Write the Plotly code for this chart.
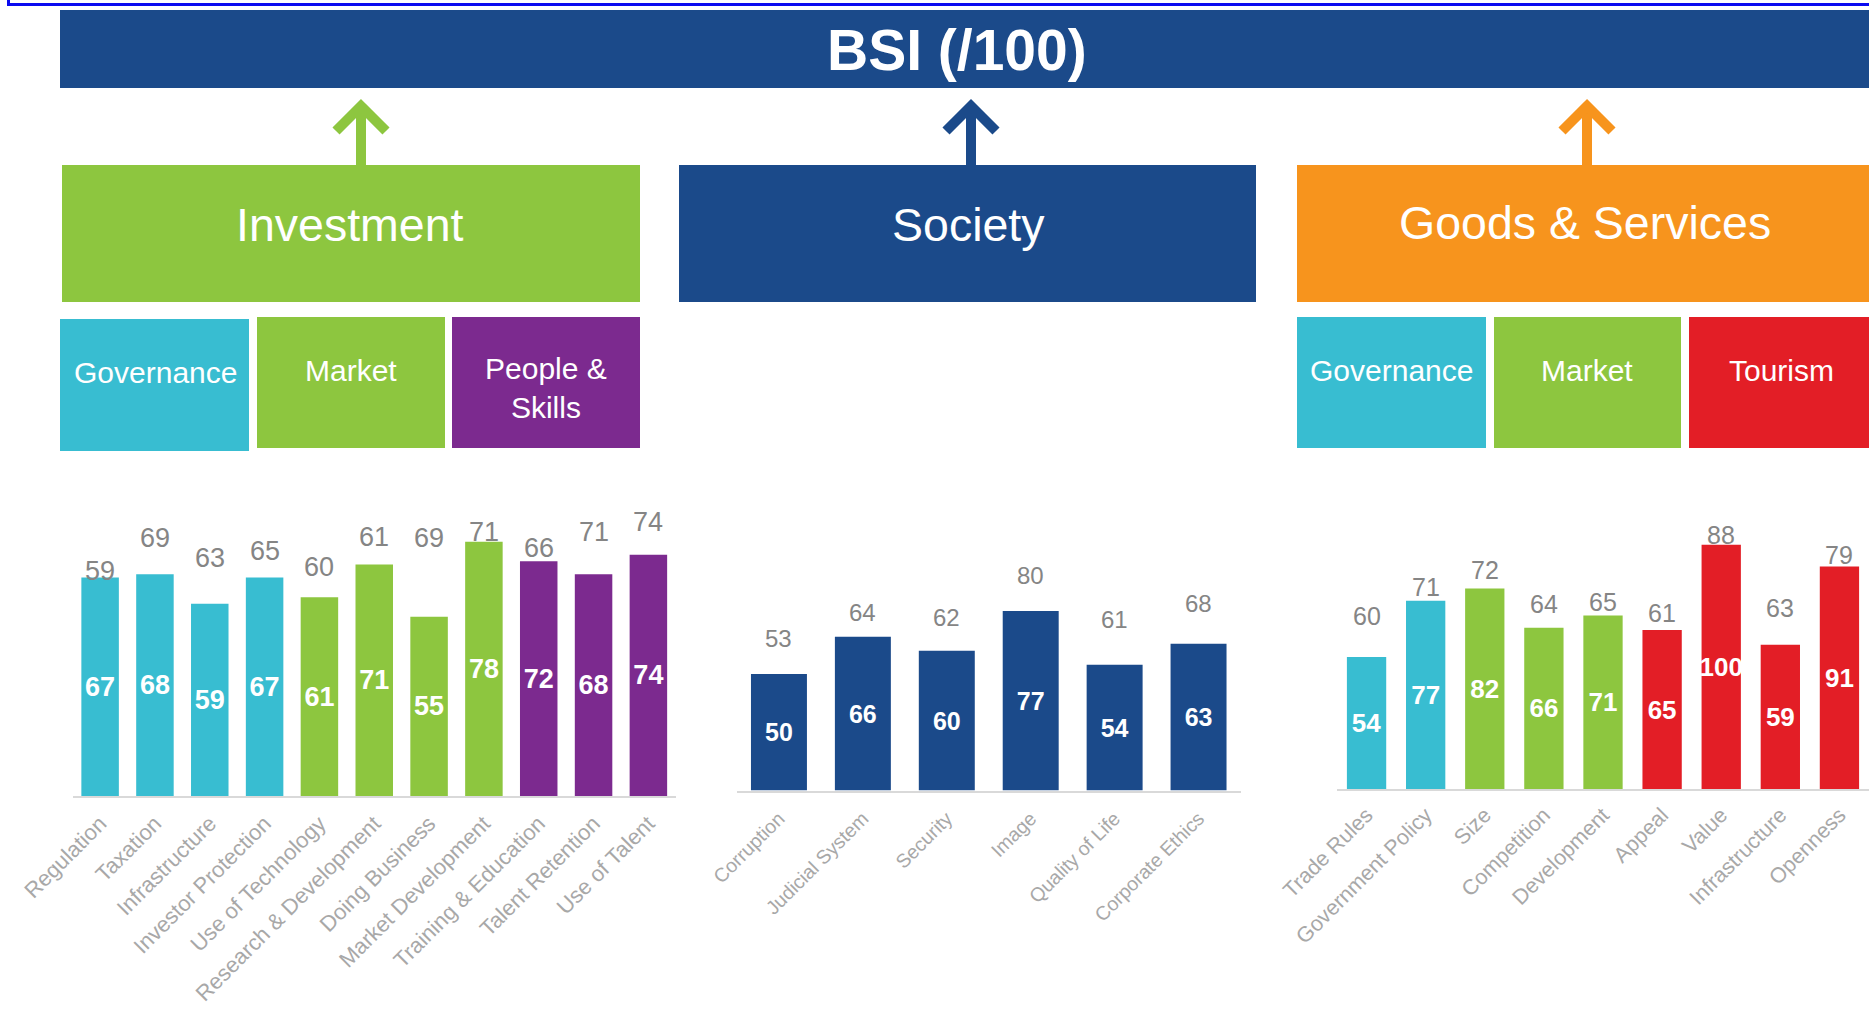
import plotly.graph_objects as go

W, H = 1869, 1014

# ---- Investment pillar -------------------------------------------------
inv_categories = ["Regulation", "Taxation", "Infrastructure", "Investor Protection",
                  "Use of Technology", "Research & Development", "Doing Business",
                  "Market Development", "Training & Education", "Talent Retention",
                  "Use of Talent"]
inv_scores = [67, 68, 59, 67, 61, 71, 55, 78, 72, 68, 74]
inv_previous = [59, 69, 63, 65, 60, 61, 69, 71, 66, 71, 74]
inv_groups = ["Governance"] * 4 + ["Market"] * 4 + ["People & Skills"] * 3

# ---- Society pillar ----------------------------------------------------
soc_categories = ["Corruption", "Judicial System", "Security", "Image",
                  "Quality of Life", "Corporate Ethics"]
soc_scores = [50, 66, 60, 77, 54, 63]
soc_previous = [53, 64, 62, 80, 61, 68]
soc_groups = ["Society"] * 6

# ---- Goods & Services pillar -------------------------------------------
gs_categories = ["Trade Rules", "Government Policy", "Size", "Competition",
                 "Development", "Appeal", "Value", "Infrastructure", "Openness"]
gs_scores = [54, 77, 82, 66, 71, 65, 100, 59, 91]
gs_previous = [60, 71, 72, 64, 65, 61, 88, 63, 79]
gs_groups = ["Governance"] * 2 + ["Market"] * 3 + ["Tourism"] * 4

# ---- styling -----------------------------------------------------------
FONT = "Liberation Sans, Arial, sans-serif"
NAVY = "#1B4A8A"
CYAN = "#38BDD1"
GREEN = "#8DC63F"
PURPLE = "#7C2A8F"
ORANGE = "#F7941D"
RED = "#E31E26"
GREY_LABEL = "#858585"
GREY_TICK = "#A8A8A8"
AXIS_LINE = "#D9D9D9"

group_colors = {"Governance": CYAN, "Market": GREEN, "People & Skills": PURPLE,
                "Tourism": RED, "Society": NAVY}

# vertical lift (px) of the previous-score labels above their value
inv_lift = [33, 33, 33, 33, 33, 60, 33, 33, 33, 33, 33]
soc_lift = [28.5] * 6
gs_lift = [26, 28, 43, 29, 28, 27, 39, 27, 41]


def fx(x):
    return x / W


def fy(y):
    return 1 - y / H


fig = go.Figure()

panels = [
    # categories, scores, previous, groups, lifts, axis suffix, bar width,
    # x-domain px, y px (base, top), label sizes, tick standoff
    (inv_categories, inv_scores, inv_previous, inv_groups, inv_lift, "", 0.684,
     (72.7, 675.8), (796, 470), 27, 27, 22, 4),
    (soc_categories, soc_scores, soc_previous, soc_groups, soc_lift, "2", 0.667,
     (737, 1240.5), (790.5, 557.5), 24, 25, 19.5, 7),
    (gs_categories, gs_scores, gs_previous, gs_groups, gs_lift, "3", 0.665,
     (1337, W), (789, 544.5), 25, 26, 21.5, 3),
]

annotations = []
layout_axes = {}
for (cats, scores, prev, groups, lift, sfx, bw, xd, yd,
     prev_size, in_size, tick_size, standoff) in panels:
    xa, ya = "x" + sfx, "y" + sfx
    fig.add_trace(go.Bar(
        x=cats, y=scores, xaxis=xa, yaxis=ya, width=bw,
        marker=dict(color=[group_colors[g] for g in groups], line=dict(width=0)),
        text=scores, textposition="inside", insidetextanchor="middle",
        textangle=0, constraintext="none",
        textfont=dict(color="white", size=in_size, family=FONT, weight="bold"),
        hoverinfo="skip", showlegend=False,
    ))
    for c, v, dy in zip(cats, prev, lift):
        annotations.append(dict(
            x=c, y=v, xref=xa, yref=ya, yshift=dy, text=str(v), showarrow=False,
            xanchor="center", yanchor="middle",
            font=dict(color=GREY_LABEL, size=prev_size, family=FONT)))
    layout_axes["xaxis" + sfx] = dict(
        domain=[fx(xd[0]), min(1.0, fx(xd[1]))], anchor=ya, type="category",
        tickmode="array", tickvals=cats, ticktext=cats,
        showline=True, linecolor=AXIS_LINE, linewidth=2, ticks="",
        ticklabelstandoff=standoff,
        tickangle=-45, tickfont=dict(color=GREY_TICK, size=tick_size, family=FONT),
        showgrid=False, zeroline=False, automargin=False, fixedrange=True)
    layout_axes["yaxis" + sfx] = dict(
        domain=[fy(yd[0]), fy(yd[1])], anchor=xa, range=[0, 100], visible=False,
        showgrid=False, zeroline=False, automargin=False, fixedrange=True)

shapes = []


def rect(x0, y0, x1, y1, color):
    shapes.append(dict(type="rect", xref="paper", yref="paper",
                       x0=fx(x0), x1=fx(x1), y0=fy(y1), y1=fy(y0),
                       fillcolor=color, line=dict(width=0), layer="below"))


# selection frame corner at the very top
shapes.append(dict(type="line", xref="paper", yref="paper", x0=fx(7), x1=1.0,
                   y0=fy(4.5), y1=fy(4.5), line=dict(color="#0A0AF0", width=3)))
shapes.append(dict(type="line", xref="paper", yref="paper", x0=fx(8.5), x1=fx(8.5),
                   y0=fy(0), y1=fy(6), line=dict(color="#0A0AF0", width=3)))

# BSI banner
rect(60, 10, W + 5, 88, NAVY)

# pillar boxes
rect(62, 165, 640, 302, GREEN)
rect(679, 165, 1256, 302, NAVY)
rect(1297, 165, W + 5, 302, ORANGE)

# sub-pillar boxes
rect(60, 319, 249, 451, CYAN)
rect(257, 317, 445, 448, GREEN)
rect(452, 317, 640, 448, PURPLE)
rect(1297, 317, 1486, 448, CYAN)
rect(1494, 317, 1681, 448, GREEN)
rect(1689, 317, W + 5, 448, RED)

# arrows from each pillar up to the BSI banner
for cx, col in [(361, GREEN), (971, NAVY), (1587, ORANGE)]:
    shapes.append(dict(type="line", xref="paper", yref="paper",
                       x0=fx(cx), x1=fx(cx), y0=fy(166), y1=fy(110),
                       line=dict(color=col, width=10)))
    path = "M {:.5f},{:.5f} L {:.5f},{:.5f} L {:.5f},{:.5f}".format(
        fx(cx - 25), fy(131), fx(cx), fy(106), fx(cx + 25), fy(131))
    shapes.append(dict(type="path", xref="paper", yref="paper", path=path,
                       line=dict(color=col, width=10)))


def label(x, y, text, size, bold=False, color="white"):
    annotations.append(dict(
        x=fx(x), y=fy(y), xref="paper", yref="paper", text=text, showarrow=False,
        xanchor="center", yanchor="middle",
        font=dict(color=color, size=size, family=FONT,
                  weight="bold" if bold else "normal")))


label(957, 50, "BSI (/100)", 57, bold=True)
label(350, 225, "Investment", 46.5)
label(968, 225, "Society", 46.5)
label(1585, 223, "Goods & Services", 46.5)
label(155, 372, "Governance", 30)
label(351, 370, "Market", 30)
label(546, 388, "People &<br>Skills", 30)
label(1391, 370, "Governance", 30)
label(1587, 370, "Market", 30)
label(1781, 370, "Tourism", 30)

fig.update_layout(
    width=W, height=H, margin=dict(l=0, r=0, t=0, b=0),
    paper_bgcolor="white", plot_bgcolor="white",
    shapes=shapes, annotations=annotations, showlegend=False,
    font=dict(family=FONT),
    **layout_axes,
)

fig.write_html("out.html", config={"displayModeBar": False})
